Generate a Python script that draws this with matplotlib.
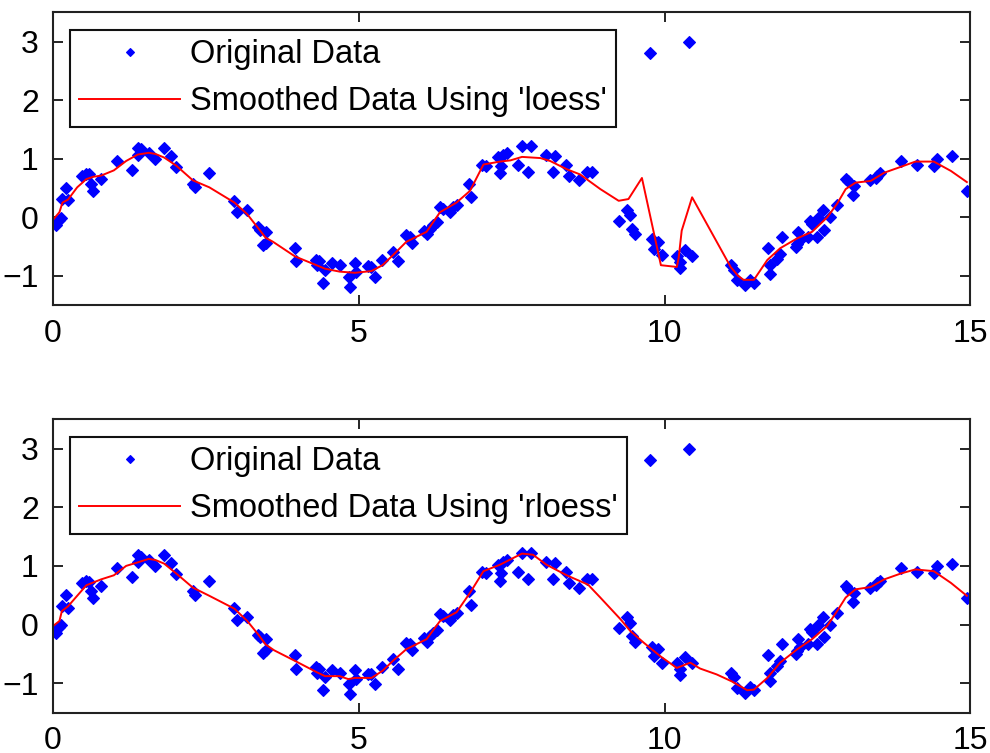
import matplotlib
matplotlib.use("Agg")
import matplotlib.pyplot as plt

plt.rcParams['font.family'] = ['Liberation Sans', 'DejaVu Sans']

# ---- data ----
x_data = [0.055, 0.11, 0.14, 0.16, 0.21, 0.25, 0.48, 0.55, 0.60, 0.63, 0.655, 0.79,
          1.05, 1.30, 1.39, 1.40, 1.45, 1.57, 1.68, 1.82, 1.94, 2.02, 2.29, 2.32,
          2.56, 2.97, 3.01, 3.18, 3.36, 3.38, 3.43, 3.48, 3.48, 3.96, 3.97, 4.31,
          4.32, 4.35, 4.41, 4.45, 4.56, 4.69, 4.84, 4.86, 4.94, 4.95, 5.16, 5.21,
          5.27, 5.39, 5.56, 5.65, 5.78, 5.84, 5.87, 6.07, 6.11, 6.17, 6.22, 6.28,
          6.33, 6.38, 6.49, 6.55, 6.61, 6.81, 6.83, 7.01, 7.08, 7.28, 7.31, 7.32,
          7.36, 7.43, 7.61, 7.67, 7.76, 7.81, 8.06, 8.17, 8.21, 8.39, 8.43, 8.60,
          8.74, 8.81, 9.25, 9.38, 9.44, 9.47, 9.52, 9.77, 9.79, 9.83, 9.90, 9.96,
          10.20, 10.25, 10.26, 10.34, 10.40, 10.45, 11.08, 11.13, 11.19, 11.32,
          11.40, 11.46, 11.69, 11.72, 11.73, 11.84, 11.88, 11.92, 12.14, 12.17,
          12.18, 12.22, 12.34, 12.37, 12.41, 12.49, 12.50, 12.59, 12.60, 12.70,
          12.81, 12.96, 13.00, 13.08, 13.09, 13.36, 13.45, 13.48, 13.52, 13.86,
          14.13, 14.40, 14.46, 14.69, 14.94]
y_data = [-0.14, -0.04, -0.01, 0.31, 0.50, 0.29, 0.71, 0.74, 0.73, 0.57, 0.45, 0.66,
          0.96, 0.81, 1.19, 1.06, 1.16, 1.10, 1.00, 1.19, 1.05, 0.86, 0.57, 0.51,
          0.75, 0.28, 0.085, 0.13, -0.17, -0.22, -0.48, -0.25, -0.44, -0.52, -0.75, -0.73,
          -0.82, -0.75, -1.12, -0.90, -0.78, -0.82, -1.02, -1.19, -0.78, -0.93, -0.84, -0.85,
          -1.02, -0.73, -0.59, -0.75, -0.31, -0.33, -0.44, -0.23, -0.29, -0.20, -0.14, -0.09,
          0.18, 0.14, 0.085, 0.17, 0.20, 0.57, 0.34, 0.89, 0.88, 1.02, 0.75, 0.88,
          1.07, 1.10, 0.89, 1.22, 0.77, 1.22, 1.07, 0.77, 1.05, 0.90, 0.71, 0.63,
          0.77, 0.77, -0.06, 0.125, 0.03, -0.20, -0.29, 2.80, -0.38, -0.54, -0.42, -0.65,
          -0.66, -0.86, -0.76, -0.56, 3.00, -0.66, -0.82, -0.90, -1.08, -1.16,
          -1.07, -1.12, -0.52, -0.82, -0.97, -0.71, -0.63, -0.34, -0.51, -0.45,
          -0.25, -0.39, -0.33, -0.07, -0.12, -0.33, -0.01, 0.125, -0.22, 0.0,
          0.20, 0.65, 0.61, 0.385, 0.54, 0.63, 0.67, 0.70, 0.75, 0.96,
          0.89, 0.88, 1.00, 1.04, 0.45]

x_loess = [0.0, 0.11, 0.16, 0.25, 0.40, 0.55, 0.66, 0.79, 1.0, 1.2, 1.39, 1.57, 1.68,
           1.82, 2.02, 2.29, 2.56, 2.97, 3.18, 3.36, 3.48, 3.60, 3.96, 4.31, 4.45,
           4.69, 4.94, 5.21, 5.39, 5.56, 5.78, 6.11, 6.33, 6.60, 6.82, 7.04, 7.31,
           7.48, 7.67, 7.97, 8.13, 8.40, 8.62, 8.95, 9.25, 9.41, 9.63, 9.94, 10.20,
           10.23, 10.28, 10.45, 11.08, 11.20, 11.29, 11.46, 11.68, 11.89, 12.17,
           12.41, 12.66, 12.82, 12.96, 13.12, 13.37, 13.59, 13.86, 14.10, 14.40,
           14.68, 14.94]
y_loess = [-0.05, 0.085, 0.25, 0.30, 0.51, 0.65, 0.69, 0.71, 0.80, 0.96, 1.07, 1.10, 1.08,
           1.02, 0.88, 0.63, 0.51, 0.25, 0.05, -0.19, -0.35, -0.42, -0.67, -0.82, -0.88,
           -0.93, -0.95, -0.92, -0.82, -0.65, -0.42, -0.25, 0.085, 0.25, 0.45, 0.90, 0.95,
           0.97, 1.03, 1.01, 0.96, 0.82, 0.73, 0.48, 0.28, 0.31, 0.67, -0.82, -0.85,
           -0.70, -0.23, 0.34, -0.85, -1.00, -1.07, -1.07, -0.73, -0.53, -0.36,
           -0.25, 0.0, 0.23, 0.48, 0.59, 0.62, 0.76, 0.86, 0.95, 0.95,
           0.79, 0.60]

x_rloess = [0.0, 0.11, 0.15, 0.25, 0.40, 0.55, 0.79, 1.0, 1.2, 1.39, 1.57, 1.68, 1.82,
            2.02, 2.29, 2.56, 2.97, 3.18, 3.36, 3.48, 3.62, 3.96, 4.31, 4.45, 4.69,
            4.83, 4.94, 5.21, 5.39, 5.56, 5.78, 6.11, 6.33, 6.60, 6.82, 7.04, 7.31,
            7.48, 7.67, 7.85, 8.07, 8.40, 8.75, 8.95, 9.28, 9.44, 9.66, 9.93, 10.20,
            10.42, 10.58, 10.85, 11.10, 11.35, 11.46, 11.68, 11.89, 12.17, 12.41,
            12.66, 12.82, 12.96, 13.12, 13.37, 13.59, 13.86, 14.10, 14.40, 14.68, 14.94]
y_rloess = [-0.03, 0.06, 0.23, 0.31, 0.49, 0.67, 0.77, 0.84, 1.00, 1.06, 1.12, 1.10, 1.04,
            0.87, 0.63, 0.49, 0.27, 0.06, -0.17, -0.34, -0.44, -0.62, -0.81, -0.88, -0.88,
            -0.93, -0.91, -0.91, -0.79, -0.62, -0.42, -0.25, 0.06, 0.21, 0.54, 0.91, 1.02,
            1.11, 1.21, 1.19, 1.02, 0.84, 0.68, 0.46, 0.09, -0.11, -0.31, -0.54, -0.74,
            -0.65, -0.75, -0.85, -0.97, -1.12, -1.11, -0.91, -0.65, -0.42, -0.25,
            -0.02, 0.23, 0.46, 0.60, 0.64, 0.77, 0.87, 0.94, 0.91, 0.71, 0.49]

x_ticks = [0, 5, 10, 15]
y_ticks = [-1, 0, 1, 2, 3]
labels_top = ['Original Data', "Smoothed Data Using 'loess'"]
labels_bottom = ['Original Data', "Smoothed Data Using 'rloess'"]

W, H = 990, 753
fig = plt.figure(figsize=(W / 100, H / 100), dpi=100)

def make_axes(top_px, bottom_px):
    left_px, right_px = 52.7, 970.5
    return fig.add_axes([left_px / W, 1 - bottom_px / H,
                         (right_px - left_px) / W, (bottom_px - top_px) / H])

ax1 = make_axes(12.3, 305.0)
ax2 = make_axes(419.3, 712.5)

for ax, xs, ys, labels in [(ax1, x_loess, y_loess, labels_top),
                           (ax2, x_rloess, y_rloess, labels_bottom)]:
    ax.plot(x_data, y_data, linestyle='none', marker='D', markersize=6.3,
            color='#0000ff', markeredgewidth=0.8, label=labels[0])
    ax.plot(xs, ys, color='#ff0000', linewidth=1.4, label=labels[1])
    ax.set_xlim(0, 15)
    ax.set_ylim(-1.5, 3.5)
    ax.set_xticks(x_ticks)
    ax.set_yticks(y_ticks)
    ax.tick_params(direction='in', length=7.5, width=1.2, top=True, right=True,
                   labelsize=23, pad=10)
    for s in ax.spines.values():
        s.set_linewidth(1.5)
        s.set_color('#222222')
    leg = ax.legend(loc='upper left', bbox_to_anchor=(0.0189, 0.9395),
                    borderaxespad=0, fontsize=23.5, frameon=True, fancybox=False,
                    framealpha=1, edgecolor='#111111', handlelength=3.1,
                    handletextpad=0.3, labelspacing=0.5, borderpad=0.28,
                    markerscale=0.7)
    leg.get_frame().set_linewidth(1.5)

fig.savefig('out.png', dpi=100)
